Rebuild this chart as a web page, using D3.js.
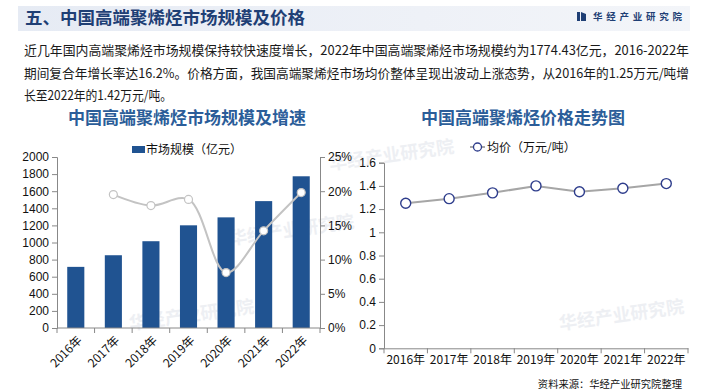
<!DOCTYPE html>
<html><head><meta charset="utf-8">
<script src="https://cdn.jsdelivr.net/npm/d3@7/dist/d3.min.js"></script>
<style>
html,body{margin:0;padding:0;background:#fff;}
svg{display:block;font-family:"Liberation Sans",Arial,"Noto Sans CJK SC",sans-serif;}
</style></head>
<body>
<svg id="c" width="705" height="392"></svg>
<script>
const years = ["2016年","2017年","2018年","2019年","2020年","2021年","2022年"];
const marketSize = [715, 851, 1015, 1201, 1294, 1484, 1774.43];
const growthYears = ["2017年","2018年","2019年","2020年","2021年","2022年"];
const growthRate = [19.5, 17.9, 18.8, 8.1, 14.2, 19.8];
const price = [1.25, 1.29, 1.34, 1.40, 1.35, 1.38, 1.42];
const leftTicks = [0,200,400,600,800,1000,1200,1400,1600,1800,2000];
const rightPctTicks = [0,5,10,15,20,25];
const priceTicks = [0,0.2,0.4,0.6,0.8,1,1.2,1.4,1.6];
const headerTitle = "五、中国高端聚烯烃市场规模及价格";
const brand = "华经产业研究院";
const paragraph = [
 "近几年国内高端聚烯烃市场规模保持较快速度增长，2022年中国高端聚烯烃市场规模约为1774.43亿元，2016-2022年",
 "期间复合年增长率达16.2%。价格方面，我国高端聚烯烃市场均价整体呈现出波动上涨态势，从2016年的1.25万元/吨增",
 "长至2022年的1.42万元/吨。"
];
const leftTitle = "中国高端聚烯烃市场规模及增速";
const leftLegend = "市场规模（亿元）";
const rightTitle = "中国高端聚烯烃价格走势图";
const rightLegend = "均价（万元/吨）";
const source = "资料来源：华经产业研究院整理";

const svg = d3.select("#c");
const cjk = '"Noto Sans CJK SC","Liberation Sans",sans-serif';

// header band
const defs = svg.append("defs");
const g1 = defs.append("linearGradient").attr("id","hdr").attr("x1","0").attr("x2","1");
g1.append("stop").attr("offset","0").attr("stop-color","#e6ebf4");
g1.append("stop").attr("offset","0.6").attr("stop-color","#eef1f7");
g1.append("stop").attr("offset","1").attr("stop-color","#f3f5f9");
svg.append("rect").attr("x",18).attr("y",6).attr("width",672).attr("height",25).attr("fill","url(#hdr)");
svg.append("text").attr("x",25).attr("y",24).attr("font-family",cjk).attr("font-weight","bold")
  .attr("font-size",17.5).attr("fill","#1f3f75").text(headerTitle);
// brand
svg.append("rect").attr("x",577).attr("y",12).attr("width",3).attr("height",9).attr("fill","#1f3f75");
svg.append("path").attr("d","M581,12 L586,14 L586,21 L581,21 Z").attr("fill","#1f3f75");
svg.append("text").attr("x",593).attr("y",20).attr("font-family",cjk).attr("font-weight","bold")
  .attr("font-size",9.5).attr("fill","#1f3f75").attr("textLength",89).attr("lengthAdjust","spacing").text(brand);

// watermarks
const wm = [[230,245,-8],[330,170,-8],[560,330,-8],[130,330,-8]];
wm.forEach(([x,y,r])=>{
  svg.append("text").attr("x",x).attr("y",y).attr("transform",`rotate(${r},${x},${y})`)
    .attr("font-family",cjk).attr("font-weight","bold").attr("font-size",18)
    .attr("fill","#d9dde6").attr("opacity",0.45).text(brand);
});

// paragraph
const pw = [665, 665, 148];
paragraph.forEach((t,i)=>{
  svg.append("text").attr("x",24).attr("y",55+i*22.5).attr("font-family",cjk)
    .attr("font-size",13).attr("fill","#1a1a1a").attr("textLength",pw[i]).attr("lengthAdjust","spacingAndGlyphs").text(t);
});

// ---------- left chart ----------
const L = {x0:57, x1:320, y0:328, y1:157};
const xL = d3.scaleBand().domain(years).range([L.x0,L.x1]).paddingInner(0.545).paddingOuter(0.2725);
const yL = d3.scaleLinear().domain([0,2000]).range([L.y0,L.y1]);
const yR = d3.scaleLinear().domain([0,25]).range([L.y0,L.y1]);

svg.append("text").attr("x",187).attr("y",124).attr("text-anchor","middle").attr("font-family",cjk)
  .attr("font-weight","bold").attr("font-size",17).attr("fill","#2b5d99").text(leftTitle);
svg.append("rect").attr("x",132).attr("y",146).attr("width",13).attr("height",7).attr("fill","#205391");
svg.append("text").attr("x",146).attr("y",154).attr("font-family",cjk).attr("font-size",12).attr("fill","#111").text(leftLegend);

svg.append("g").selectAll("rect").data(marketSize).join("rect")
  .attr("x",(d,i)=>xL(years[i])).attr("width",xL.bandwidth())
  .attr("y",d=>yL(d)).attr("height",d=>L.y0-yL(d)).attr("fill","#205391");

const axL = svg.append("g").attr("transform",`translate(${L.x0},0)`)
  .call(d3.axisLeft(yL).tickValues(leftTicks).tickSize(5).tickPadding(3).tickFormat(d3.format("d")));
const axR = svg.append("g").attr("transform",`translate(${L.x1},0)`)
  .call(d3.axisRight(yR).tickValues(rightPctTicks).tickSize(5).tickPadding(3).tickFormat(d=>d+"%"));
const bandStep = xL.step();
const xEdges = d3.range(8).map(i=>L.x0 + i*(L.x1-L.x0)/7);
const xaxL = svg.append("g");
xaxL.append("line").attr("x1",L.x0).attr("x2",L.x1).attr("y1",L.y0).attr("y2",L.y0).attr("stroke","#888");
xaxL.selectAll("line.t").data(xEdges).join("line").attr("class","t").attr("x1",d=>d).attr("x2",d=>d)
  .attr("y1",L.y0).attr("y2",L.y0+5).attr("stroke","#888");
xaxL.selectAll("text").data(years).join("text")
  .attr("transform",d=>{const cx=xL(d)+xL.bandwidth()/2+4; return `translate(${cx},${L.y0+10}) rotate(-45)`;})
  .attr("text-anchor","end").attr("dy","0.35em").attr("font-family",cjk).attr("font-size",12).attr("fill","#111").text(d=>d);

[axL,axR].forEach(a=>{
  a.select(".domain").attr("stroke","#888");
  a.selectAll(".tick line").attr("stroke","#888");
  a.selectAll(".tick text").attr("font-size",12).attr("fill","#111").attr("font-family","'Liberation Sans',Arial,sans-serif");
});

const gl = d3.line().x((d,i)=>xL(growthYears[i])+xL.bandwidth()/2).y(d=>yR(d)).curve(d3.curveCatmullRom.alpha(0.5));
svg.append("path").attr("d",gl(growthRate)).attr("fill","none").attr("stroke","#c3c3c3").attr("stroke-width",2);
svg.append("g").selectAll("circle").data(growthRate).join("circle")
  .attr("cx",(d,i)=>xL(growthYears[i])+xL.bandwidth()/2).attr("cy",d=>yR(d)).attr("r",4)
  .attr("fill","#fff").attr("stroke","#c3c3c3").attr("stroke-width",1.2);

// ---------- right chart ----------
const R = {x0:384, x1:688, y0:348.3, y1:162.7};
const xP = d3.scaleBand().domain(years).range([R.x0,R.x1]);
const yP = d3.scaleLinear().domain([0,1.6]).range([R.y0,R.y1]);
svg.append("text").attr("x",523).attr("y",124).attr("text-anchor","middle").attr("font-family",cjk)
  .attr("font-weight","bold").attr("font-size",17).attr("fill","#2b5d99").text(rightTitle);
svg.append("line").attr("x1",470).attr("x2",485).attr("y1",147).attr("y2",147).attr("stroke","#a6a6a6").attr("stroke-width",2);
svg.append("circle").attr("cx",477.5).attr("cy",147).attr("r",4).attr("fill","#fff").attr("stroke","#2e3d8c").attr("stroke-width",1.3);
svg.append("text").attr("x",487).attr("y",152).attr("font-family",cjk).attr("font-size",12).attr("fill","#111").text(rightLegend);

const axP = svg.append("g").attr("transform",`translate(${R.x0},0)`)
  .call(d3.axisLeft(yP).tickValues(priceTicks).tickSize(5).tickPadding(3).tickFormat(d=>String(+d.toFixed(1))));
axP.select(".domain").attr("stroke","#888");
axP.selectAll(".tick line").attr("stroke","#888");
axP.selectAll(".tick text").attr("font-size",12).attr("fill","#111");

const xaxP = svg.append("g").attr("transform",`translate(0,${R.y0})`)
  .call(d3.axisBottom(xP).tickSize(0).tickPadding(7));
xaxP.select(".domain").attr("stroke","#888");
xaxP.selectAll(".tick text").attr("font-size",12).attr("fill","#111").attr("font-family",cjk);
const pEdges = d3.range(8).map(i=>R.x0 + i*xP.step());
xaxP.selectAll("line.e").data(pEdges).join("line").attr("class","e").attr("x1",d=>d).attr("x2",d=>d)
  .attr("y1",0).attr("y2",5).attr("stroke","#888");

const pl = d3.line().x((d,i)=>xP(years[i])+xP.bandwidth()/2).y(d=>yP(d));
svg.append("path").attr("d",pl(price)).attr("fill","none").attr("stroke","#a6a6a6").attr("stroke-width",2);
svg.append("g").selectAll("circle").data(price).join("circle")
  .attr("cx",(d,i)=>xP(years[i])+xP.bandwidth()/2).attr("cy",d=>yP(d)).attr("r",5)
  .attr("fill","#fff").attr("stroke","#2e3d8c").attr("stroke-width",1.4);

svg.append("text").attr("x",682).attr("y",388).attr("text-anchor","end").attr("font-family",cjk)
  .attr("font-size",10.3).attr("fill","#111").text(source);
</script>
</body></html>
